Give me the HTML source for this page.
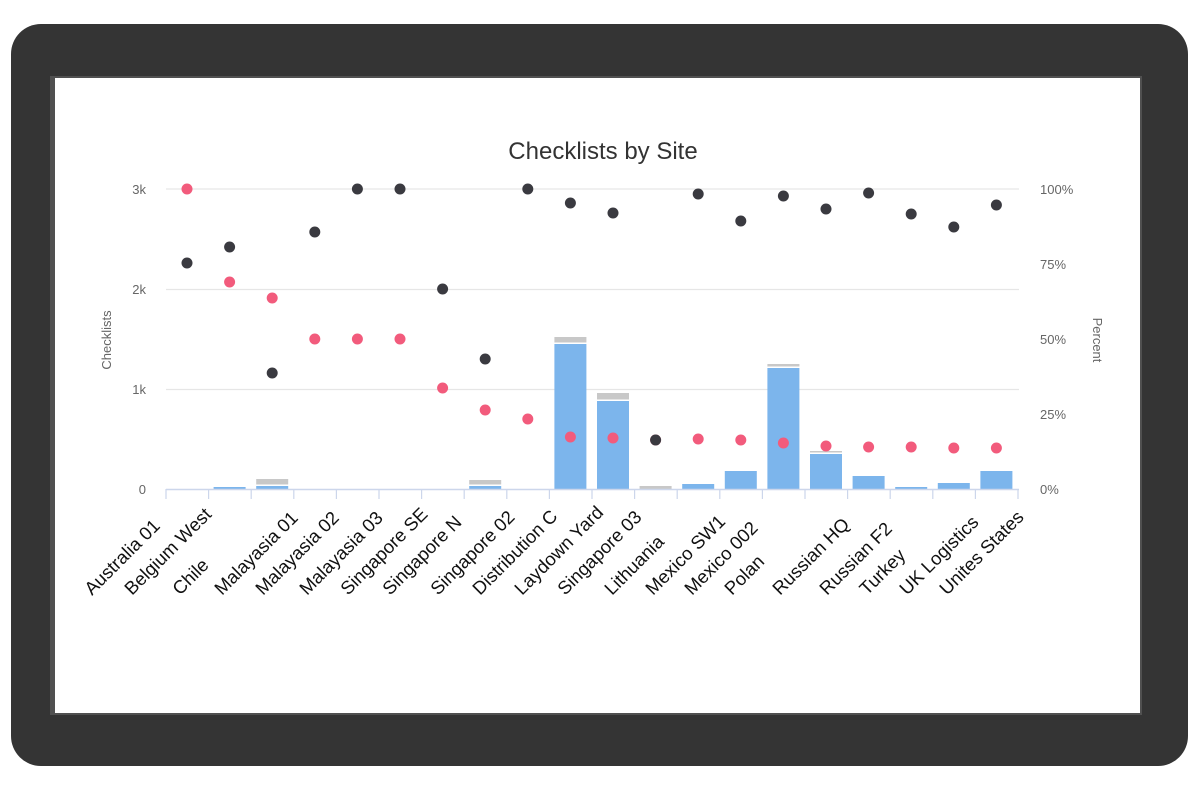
<!DOCTYPE html>
<html><head><meta charset="utf-8"><style>
html,body{margin:0;padding:0;background:#fff;}
svg{display:block;}
text{font-family:"Liberation Sans",Arial,sans-serif;}
</style></head><body>
<svg width="1200" height="800" viewBox="0 0 1200 800" xmlns="http://www.w3.org/2000/svg">
<rect x="0" y="0" width="1200" height="800" fill="#fff"/>
<rect x="11" y="24" width="1177" height="742" rx="30" fill="#343434"/>
<rect x="50" y="76" width="1092" height="639" fill="#505050"/>
<rect x="55" y="78" width="1085" height="635" fill="#fff"/>
<text x="603" y="159" text-anchor="middle" font-size="24" fill="#333">Checklists by Site</text>
<g stroke="#e6e6e6" stroke-width="1.3">
<line x1="166" y1="189" x2="1019" y2="189"/>
<line x1="166" y1="289.5" x2="1019" y2="289.5"/>
<line x1="166" y1="389.5" x2="1019" y2="389.5"/>
</g>
<g font-size="13" fill="#666" text-anchor="end">
<text x="146" y="194">3k</text><text x="146" y="294">2k</text><text x="146" y="394">1k</text><text x="146" y="494">0</text>
</g>
<g font-size="13" fill="#666">
<text x="1040" y="194">100%</text><text x="1040" y="269">75%</text><text x="1040" y="344">50%</text><text x="1040" y="419">25%</text><text x="1040" y="494">0%</text>
</g>
<text transform="translate(111,340) rotate(-90)" text-anchor="middle" font-size="13" fill="#666">Checklists</text>
<text transform="translate(1093,340) rotate(90)" text-anchor="middle" font-size="13" fill="#666">Percent</text>
<g id="bars"></g>
<g id="axis"></g>
<g id="dots"></g>
<g id="labels" font-size="18.5" fill="#111"></g>
</svg>
<script>
var NS="http://www.w3.org/2000/svg";
function el(p,t,a,txt){var e=document.createElementNS(NS,t);for(var k in a)e.setAttribute(k,a[k]);if(txt)e.textContent=txt;document.getElementById(p).appendChild(e);}
var cx=function(i){return 187+42.6*i;};
var bars={1:[487,null],2:[486,479],7:[486,480],9:[344,337],10:[401,393],11:[null,486],12:[484,null],13:[471,null],14:[368,364],15:[454,451],16:[476,null],17:[487,null],18:[483,null],19:[471,null]};
for(var i in bars){var b=bars[i],x=cx(+i)-16;
 if(b[0]!==null){el("bars","rect",{x:x,y:b[0],width:32,height:489-b[0],fill:"#7cb5ec"});}
 if(b[1]!==null){var bot=b[0]!==null?b[0]-1.5:489;el("bars","rect",{x:x,y:b[1],width:32,height:bot-b[1],fill:"#c8c8c8"});}
}
el("axis","line",{x1:166,y1:489.5,x2:1019,y2:489.5,stroke:"#ccd6eb","stroke-width":1.5});
for(var i=0;i<=20;i++){var x=166+42.6*i;el("axis","line",{x1:x,y1:489,x2:x,y2:499,stroke:"#ccd6eb","stroke-width":1.2});}
var dark=[263,247,373,232,189,189,289,359,189,203,213,440,194,221,196,209,193,214,227,205];
var pink=[189,282,298,339,339,339,388,410,419,437,438,440,439,440,443,446,447,447,448,448];
for(var i=0;i<20;i++){el("dots","circle",{cx:cx(i),cy:pink[i],r:5.5,fill:"#f25b7c"});}
for(var i=0;i<20;i++){el("dots","circle",{cx:cx(i),cy:dark[i],r:5.5,fill:"#3a3a40"});}
var names=["Australia 01","Belgium West","Chile","Malayasia 01","Malayasia 02","Malayasia 03","Singapore SE","Singapore N","Singapore 02","Distribution C","Laydown Yard","Singapore 03","Lithuania","Mexico SW1","Mexico 002","Polan","Russian HQ","Russian F2","Turkey","UK Logistics","Unites States"];
var sx=[87,127,175,217,258,302,343,385,433,475,517,560,607,648,687,727,775,822,862,902,942];
for(var i=0;i<names.length;i++){el("labels","text",{transform:"translate("+(sx[i]+5)+",596) rotate(-45)"},names[i]);}
</script>
</body></html>
